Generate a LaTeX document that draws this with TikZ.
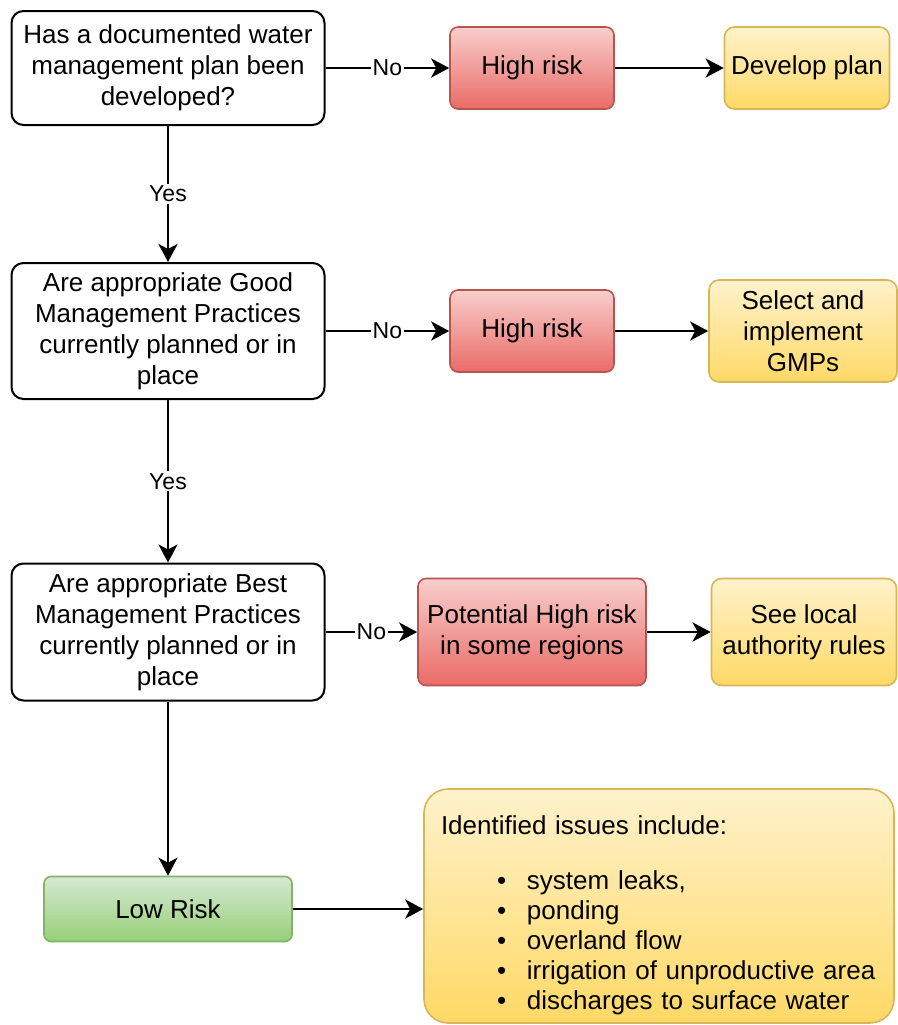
\documentclass[tikz,border=0pt]{standalone}
\usepackage{fontspec}
\setmainfont{Liberation Sans}
\usetikzlibrary{arrows.meta}
\definecolor{redtop}{HTML}{F8CECC}
\definecolor{redbot}{HTML}{EA6B66}
\definecolor{redline}{HTML}{B85450}
\definecolor{yeltop}{HTML}{FFF2CC}
\definecolor{yelbot}{HTML}{FFD966}
\definecolor{yelline}{HTML}{D6B656}
\definecolor{grntop}{HTML}{D5E8D4}
\definecolor{grnbot}{HTML}{97D077}
\definecolor{grnline}{HTML}{82B366}
\tikzstyle{question node} = [draw,line width=1pt,rounded corners=6pt,align=center,minimum width=156.5pt,inner sep=2pt]
\tikzstyle{risk node}     = [draw=redline,line width=0.8pt,top color=redtop,bottom color=redbot,rounded corners=4pt,align=center,inner sep=2pt]
\tikzstyle{action node}   = [draw=yelline,line width=0.8pt,top color=yeltop,bottom color=yelbot,rounded corners=5pt,align=center,inner sep=2pt]
\tikzstyle{low node}      = [draw=grnline,line width=0.8pt,top color=grntop,bottom color=grnbot,rounded corners=3.5pt,align=center]
\newcommand{\issue}[1]{\hspace*{28pt}\makebox[15pt][l]{\textbullet}#1}

\begin{document}
\begin{tikzpicture}[x=0.5pt,y=-0.5pt,
                    font=\fontsize{13}{15.5}\selectfont
                    ]
\tikzstyle{arrow}=[line width=1.3pt,-{Stealth[length=9pt,width=9.5pt,inset=2.5pt]}]
\tikzstyle{edge label}=[fill=white,inner sep=1pt,font=\fontsize{11.5}{13}\selectfont]

    \useasboundingbox (0,0) rectangle (898,1025);

    % questions
    \node(q1)[question node, minimum height=57pt] at (168,68)
        {Has a documented water\\management plan been\\developed?};
    \node(q2)[question node, minimum height=68pt] at (168,331)
        {Are appropriate Good\\Management Practices\\currently planned or in\\place};
    \node(q3)[question node, minimum height=68.5pt] at (168,632)
        {Are appropriate Best\\Management Practices\\currently planned or in\\place};

    % risks
    \node(r1)[risk node, minimum width=82pt, minimum height=41pt] at (532,68) {High risk};
    \node(r2)[risk node, minimum width=82pt, minimum height=41pt] at (532,331) {High risk};
    \node(r3)[risk node, minimum width=114pt, minimum height=53.5pt] at (532,632)
        {Potential High risk\\in some regions};
    \node(low)[low node, minimum width=124pt, minimum height=32.5pt] at (168,909) {Low Risk};

    % actions
    \node(a1)[action node, minimum width=82.5pt, minimum height=41pt] at (807,68) {Develop plan};
    \node(a2)[action node, minimum width=94pt, minimum height=51pt] at (803,331)
        {Select and\\implement\\GMPs};
    \node(a3)[action node, minimum width=92.5pt, minimum height=53.5pt] at (804,632)
        {See local\\authority rules};
    \node(issues)[action node, rounded corners=12pt, minimum width=235pt, minimum height=117pt,
                  text width=218pt, inner xsep=8.5pt, align=left,
                  font=\fontsize{13}{15.1}\selectfont] at (659,906)
        {\rule{0pt}{19pt}Identified issues include:\\[12pt]
         \issue{system leaks,}\\
         \issue{ponding}\\
         \issue{overland flow}\\
         \issue{irrigation of unproductive area}\\
         \issue{discharges to surface water}};

    \draw[arrow](q1)--node[edge label]{No}(r1);
    \draw[arrow](q2)--node[edge label]{No}(r2);
    \draw[arrow](q3)--node[edge label]{No}(r3);
    \draw[arrow](r1)--(a1);
    \draw[arrow](r2)--(a2);
    \draw[arrow](r3)--(a3);
    \draw[arrow](q1)--node[edge label]{Yes}(q2);
    \draw[arrow](q2)--node[edge label]{Yes}(q3);
    \draw[arrow](q3)--(low);
    \draw[arrow](low.east)--(low.east -| issues.west);

\end{tikzpicture}
\end{document}
